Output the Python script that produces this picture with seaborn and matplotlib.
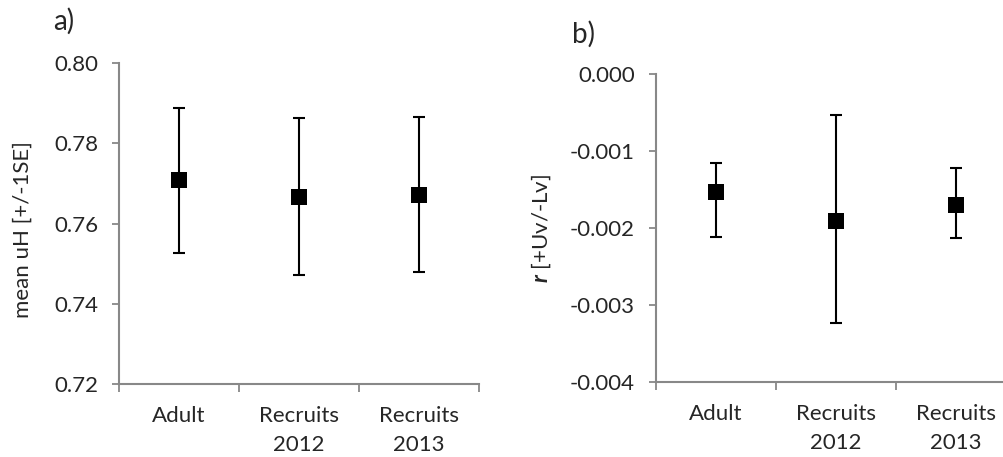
import numpy as np
import pandas as pd
import matplotlib.pyplot as plt
import seaborn as sns

# Values
groups = ["Adult", "Recruits\n2012", "Recruits\n2013"]

uh_mean = [0.7708, 0.7667, 0.7671]
uh_upper = [0.7889, 0.7862, 0.7865]
uh_lower = [0.7526, 0.7472, 0.7479]

r_mean = [-0.001535, -0.001909, -0.001697]
r_upper = [-0.001158, -0.000534, -0.001223]
r_lower = [-0.002113, -0.003232, -0.002126]

sns.set_style("white")
plt.rcParams["font.family"] = ["Lato", "DejaVu Sans"]
plt.rcParams["mathtext.fontset"] = "custom"
plt.rcParams["mathtext.rm"] = "Lato"
plt.rcParams["mathtext.bfit"] = "Lato:italic:bold"

FS = 16
SPINE = "#888888"

fig = plt.figure(figsize=(10.04, 4.57), dpi=100)
ax_a = fig.add_axes([0.1185, 0.1597, 0.3586, 0.7024])
ax_b = fig.add_axes([0.6531, 0.1648, 0.3586, 0.6726])


def draw_panel(ax, mean, upper, lower, ylim, yticks, fmt):
    pos = np.arange(len(groups))
    df = pd.DataFrame({"x": pos, "y": mean})
    err = [np.array(mean) - np.array(lower), np.array(upper) - np.array(mean)]
    ax.errorbar(pos, mean, yerr=err, fmt="none", ecolor="black",
                elinewidth=1.5, capsize=4.5, capthick=1.5, zorder=2)
    sns.scatterplot(data=df, x="x", y="y", marker="s", s=118, color="black",
                    edgecolor="black", linewidth=0, ax=ax, zorder=3)

    ax.set_xlim(-0.5, len(groups) - 0.5)
    ax.set_ylim(*ylim)
    ax.set_yticks(yticks)
    ax.set_yticklabels([fmt.format(v) for v in yticks])

    # category boundaries get the tick marks, labels sit in the middle
    ax.set_xticks(np.arange(len(groups) + 1) - 0.5)
    ax.set_xticklabels([])
    ax.set_xticks(pos, minor=True)
    ax.set_xticklabels(groups, minor=True, fontsize=FS, linespacing=1.55)
    ax.tick_params(axis="x", which="major", length=6, width=1.3,
                   color=SPINE, direction="out", bottom=True)
    ax.tick_params(axis="x", which="minor", length=0, pad=16)
    ax.tick_params(axis="y", length=5, width=1.3, color=SPINE,
                   direction="out", left=True, pad=10, labelsize=FS)

    sns.despine(ax=ax)
    for side in ["left", "bottom"]:
        ax.spines[side].set_color(SPINE)
        ax.spines[side].set_linewidth(1.5)
    ax.set_xlabel("")
    ax.grid(False)


draw_panel(ax_a, uh_mean, uh_upper, uh_lower, (0.72, 0.80),
           [0.72, 0.74, 0.76, 0.78, 0.80], "{:.2f}")
ax_a.set_ylabel("mean uH [+/-1SE]", fontsize=FS)
ax_a.yaxis.set_label_coords(-0.24, 0.48)

draw_panel(ax_b, r_mean, r_upper, r_lower, (-0.004, 0.0),
           [-0.004, -0.003, -0.002, -0.001, 0.0], "{:.3f}")
ax_b.set_ylabel(r"$\mathbfit{r}$ [+Uv/-Lv]", fontsize=FS)
ax_b.yaxis.set_label_coords(-0.285, 0.50)

fig.text(0.053, 0.935, "a)", fontsize=20, ha="left", va="baseline")
fig.text(0.570, 0.907, "b)", fontsize=20, ha="left", va="baseline")

fig.savefig("out.png", dpi=100)
